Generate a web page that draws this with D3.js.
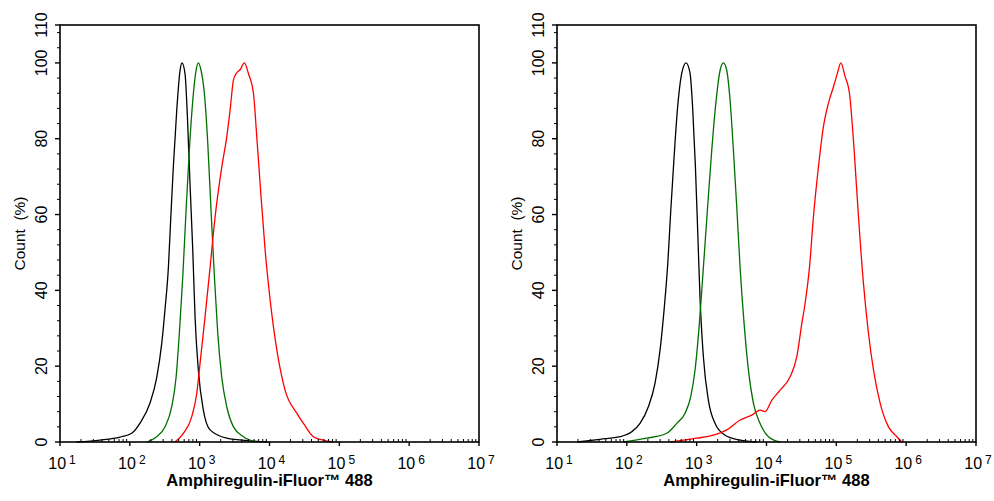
<!DOCTYPE html>
<html>
<head>
<meta charset="utf-8">
<script src="https://cdn.jsdelivr.net/npm/d3@7"></script>
<style>
  body { margin: 0; background: #fff; }
  text { font-family: "Liberation Sans", Arial, Helvetica, sans-serif; fill: #000; }
</style>
</head>
<body>
<div id="viz"></div>
<script>
// x values are log10 of fluorescence intensity, y values are count (%)
const leftControl = [[1.24,0],[1.573,0.5],[1.86,1.3],[2.027,2.3],[2.146,5],[2.289,10.3],[2.385,17],[2.457,26],[2.504,35],[2.552,46],[2.586,59],[2.623,72.6],[2.672,87.6],[2.719,98],[2.748,100],[2.791,97],[2.824,86],[2.862,68],[2.901,50.7],[2.934,33],[2.981,19],[3.053,8.4],[3.149,3.2],[3.388,1],[3.722,0.3],[3.97,0]];
const leftUnstained = [[2.242,0],[2.385,1.4],[2.504,4],[2.6,9.3],[2.662,17],[2.709,28.7],[2.758,43.6],[2.805,61],[2.852,77],[2.901,90],[2.948,98],[2.981,100],[3.02,98],[3.067,92],[3.116,78.8],[3.163,61],[3.211,43.6],[3.259,28.7],[3.317,17],[3.388,9.3],[3.484,4],[3.627,1.4],[3.818,0]];
const leftStained = [[2.648,0],[2.766,2.3],[2.887,6.7],[2.958,12.8],[3.006,20.8],[3.077,33],[3.149,46],[3.221,59.4],[3.317,72.6],[3.388,80.5],[3.436,87.6],[3.484,95.5],[3.532,97.4],[3.579,98.2],[3.641,100],[3.698,97.2],[3.77,92],[3.818,80.5],[3.865,68.3],[3.937,50.7],[4.009,37.5],[4.105,24.3],[4.223,13.7],[4.39,7.6],[4.486,4.9],[4.629,1.4],[4.772,0.5],[4.916,0]];

const rightControl = [[1.29,0],[1.616,0.7],[1.903,1.4],[2.07,2.7],[2.189,4.9],[2.308,9.3],[2.404,15.5],[2.476,24.3],[2.533,34.8],[2.586,47],[2.629,61],[2.676,75],[2.724,87.6],[2.787,97.3],[2.848,100],[2.905,97.3],[2.944,87.6],[2.982,72.6],[3.016,55],[3.049,37.5],[3.096,22.5],[3.168,11],[3.264,4.9],[3.407,1.8],[3.622,0.5],[3.861,0]];
const rightUnstained = [[1.95,0],[2.285,1],[2.571,2.3],[2.715,4.9],[2.834,7.6],[2.915,12],[2.977,19],[3.039,31.3],[3.096,46],[3.153,61],[3.216,77],[3.278,90],[3.335,98],[3.383,100],[3.431,98],[3.479,90],[3.526,77],[3.574,62],[3.622,46],[3.679,31.3],[3.741,19],[3.813,10.2],[3.908,4.9],[4.028,1.4],[4.195,0]];
const rightStained = [[2.62,0],[3.0,1],[3.239,1.8],[3.431,3.2],[3.622,5.8],[3.789,7.1],[3.908,8.4],[3.98,8],[4.075,11],[4.195,13.7],[4.338,17.2],[4.434,22.5],[4.506,31.3],[4.553,36.6],[4.615,46],[4.672,59.4],[4.744,72.6],[4.815,83.2],[4.887,89.4],[4.959,93.7],[5.016,97.3],[5.064,100],[5.126,96.4],[5.188,92],[5.255,77],[5.317,59.4],[5.388,41.9],[5.46,28.7],[5.532,19],[5.628,10.2],[5.747,4],[5.867,1.4],[5.938,0]];

const xTickExponents = [1, 2, 3, 4, 5, 6, 7];
const yTickValues = [0, 20, 40, 60, 80, 100, 110];
const yMinorStep = 4;
const xTitle = "Amphiregulin-iFluor\u2122 488";
const yTitle = "Count\u00a0 (%)";

const panels = [
    { series: [leftControl, leftUnstained, leftStained], left: 60 },
    { series: [rightControl, rightUnstained, rightStained], left: 557 }
];
const seriesColors = ["#000000", "#007000", "#ff0000"];

const width = 994, height = 501;
const plotW = 419, plotTop = 25, plotBottom = 442;

const svg = d3.select("#viz").append("svg")
    .attr("width", width)
    .attr("height", height)
    .style("background", "#fff");

const yScale = d3.scaleLinear().domain([0, 110]).range([plotBottom, plotTop]);

panels.forEach(p => {
    const xScale = d3.scaleLog().domain([10, 1e7]).range([p.left, p.left + plotW]);
    const g = svg.append("g");

    // curves
    const line = d3.line()
        .x(d => xScale(Math.pow(10, d[0])))
        .y(d => yScale(d[1]))
        .curve(d3.curveMonotoneX);

    g.selectAll(".curve")
        .data(p.series)
        .join("path")
            .attr("class", "curve")
            .attr("fill", "none")
            .attr("stroke", (d,i) => seriesColors[i])
            .attr("stroke-width", 1.3)
            .attr("d", line);

    // frame
    g.append("rect")
        .attr("x", p.left)
        .attr("y", plotTop)
        .attr("width", plotW)
        .attr("height", plotBottom - plotTop)
        .attr("fill", "none")
        .attr("stroke", "#000")
        .attr("stroke-width", 1.6);

    // x minor ticks (inside)
    const minor = [];
    for (let e = 1; e < 7; e++) for (let m = 2; m <= 9; m++) minor.push(m * Math.pow(10, e));
    g.selectAll(".xminor")
        .data(minor)
        .join("line")
            .attr("x1", d => xScale(d)).attr("x2", d => xScale(d))
            .attr("y1", plotBottom).attr("y2", plotBottom - 3)
            .attr("stroke", "#000").attr("stroke-width", 1);

    // x major ticks (outside)
    g.selectAll(".xmajor")
        .data(xTickExponents)
        .join("line")
            .attr("x1", d => xScale(Math.pow(10, d))).attr("x2", d => xScale(Math.pow(10, d)))
            .attr("y1", plotBottom).attr("y2", plotBottom + 4)
            .attr("stroke", "#000").attr("stroke-width", 1.4);

    const xl = g.selectAll(".xlabel")
        .data(xTickExponents)
        .join("text")
            .attr("class", "xlabel")
            .attr("x", d => xScale(Math.pow(10, d)) + 2)
            .attr("y", 469)
            .style("text-anchor", "middle")
            .style("font-size", "16px");
    xl.append("tspan").text("10");
    xl.append("tspan").attr("dx", 3).attr("dy", -5).style("font-size", "12px").text(d => d);

    // y ticks
    const yMinor = d3.range(0, 110 + 0.1, yMinorStep).filter(v => v % 20 !== 0);
    g.selectAll(".yminor")
        .data(yMinor)
        .join("line")
            .attr("x1", p.left).attr("x2", p.left - 3)
            .attr("y1", d => yScale(d)).attr("y2", d => yScale(d))
            .attr("stroke", "#000").attr("stroke-width", 1);
    g.selectAll(".ymajor")
        .data(yTickValues)
        .join("line")
            .attr("x1", p.left).attr("x2", p.left - 5)
            .attr("y1", d => yScale(d)).attr("y2", d => yScale(d))
            .attr("stroke", "#000").attr("stroke-width", 1.4);
    g.selectAll(".ylabel")
        .data(yTickValues)
        .join("text")
            .attr("class", "ylabel")
            .attr("transform", d => `translate(${p.left - 13},${yScale(d)}) rotate(-90)`)
            .style("text-anchor", "middle")
            .style("font-size", "16px")
            .text(d => d);

    // titles
    g.append("text")
        .attr("x", p.left + plotW / 2)
        .attr("y", 486)
        .style("text-anchor", "middle")
        .style("font-size", "16.5px")
        .style("font-weight", 700)
        .text(xTitle);
    g.append("text")
        .attr("transform", `translate(${p.left - 35},${(plotTop + plotBottom) / 2}) rotate(-90)`)
        .style("text-anchor", "middle")
        .style("font-size", "15.5px")
        .text(yTitle);
});
</script>
</body>
</html>
